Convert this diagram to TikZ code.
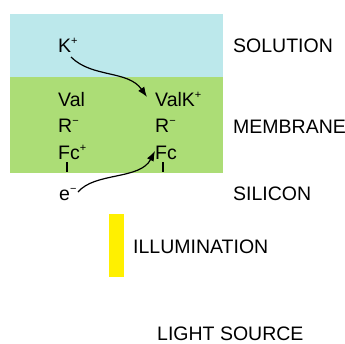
\documentclass[tikz,border=0pt]{standalone}
\usepackage{fontspec}
\setmainfont{Liberation Sans}
\usetikzlibrary{arrows.meta}
\definecolor{solblue}{RGB}{188,232,235}
\definecolor{memgreen}{RGB}{172,221,118}
\definecolor{illyellow}{RGB}{255,240,0}
\newcommand{\mysup}[1]{\raisebox{7.5pt}{\fontsize{11}{11}\selectfont #1}}
\begin{document}
\begin{tikzpicture}[x=1pt,y=-1pt,
  lbl/.style={anchor=base west,inner sep=0pt,font=\fontsize{19.5}{22}\selectfont},
  curvearrow/.style={-{Latex[length=10pt,width=7.5pt]},line width=1.2pt},
  tick/.style={line width=1.2pt}]
\useasboundingbox (0,0) rectangle (345,343);
% layers
\fill[solblue] (10,14) rectangle (223,77);
\fill[memgreen] (10,77) rectangle (223,173);
\fill[illyellow] (109,214) rectangle (124,277);
% species
\node[lbl] (k) at (58,52) {K\mysup{+}};
\node[lbl] (valL) at (58,106) {Val};
\node[lbl] (rL) at (58,132) {R\mysup{−}};
\node[lbl] (fcL) at (58,159) {Fc\mysup{+}};
\node[lbl] (valR) at (155,106) {ValK\mysup{+}};
\node[lbl] (rR) at (155,132) {R\mysup{−}};
\node[lbl] (fcR) at (155,159) {Fc};
\node[lbl] (e) at (59,200) {e\mysup{−}};
% ticks under Fc
\draw[tick] (67,162) -- (67,172);
\draw[tick] (163,162) -- (163,172);
% arrows
\coordinate (a1s) at (71,57);
\coordinate (a1e) at (147,97);
\draw[curvearrow] (a1s) .. controls (92,78) and (128,70) .. (a1e);
\coordinate (a2s) at (78,192);
\coordinate (a2e) at (155,151);
\draw[curvearrow] (a2s) .. controls (95,172) and (140,180) .. (a2e);
% labels
\node[lbl] (sol) at (233,52) {SOLUTION};
\node[lbl] (mem) at (233,133) {MEMBRANE};
\node[lbl] (sil) at (233,200) {SILICON};
\node[lbl] (ill) at (133,253) {ILLUMINATION};
\node[lbl] (ls) at (157,340) {LIGHT SOURCE};
\end{tikzpicture}
\end{document}
